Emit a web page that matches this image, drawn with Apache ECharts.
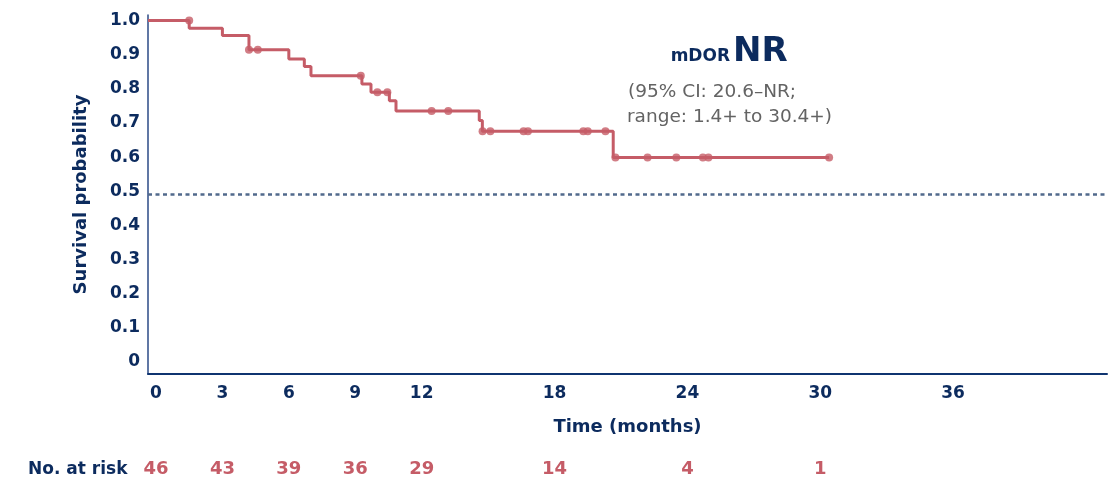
<!DOCTYPE html>
<html><head><meta charset="utf-8">
<script src="https://cdn.jsdelivr.net/npm/echarts@6/dist/echarts.min.js"></script>
<style>html,body{margin:0;padding:0;background:#fff}#c{width:1114px;height:485px}</style>
</head><body><div id="c"></div>
<script>
// Kaplan–Meier step curve (time in months, survival probability)
const kmTimes = [-0.36, 1.5, 3.0, 4.2, 6.0, 6.7, 7.0, 9.3, 9.71, 10.54, 10.84, 14.6, 14.74, 20.65, 30.4];
const kmSurv  = [1.0, 0.977, 0.956, 0.914, 0.887, 0.865, 0.838, 0.814, 0.790, 0.765, 0.735, 0.707, 0.676, 0.599, 0.599];
// Censored observations
const censorTimes = [1.5, 4.2, 4.6, 9.25, 10.0, 10.45, 12.45, 13.2, 14.75, 15.1, 16.6, 16.8, 19.3, 19.5, 20.3, 20.75, 22.2, 23.5, 24.7, 24.95, 30.4];
const censorSurv  = [1.0, 0.914, 0.914, 0.838, 0.790, 0.790, 0.735, 0.735, 0.676, 0.676, 0.676, 0.676, 0.676, 0.676, 0.676, 0.599, 0.599, 0.599, 0.599, 0.599, 0.599];
// Axis ticks
const xTicks = [0, 3, 6, 9, 12, 18, 24, 30, 36];
const yTicks = [0, 0.1, 0.2, 0.3, 0.4, 0.5, 0.6, 0.7, 0.8, 0.9, 1.0];
// Number at risk
const riskTimes  = [0, 3, 6, 9, 12, 18, 24, 30];
const riskCounts = [46, 43, 39, 36, 29, 14, 4, 1];
// Reference (median) line
const refLevel = 0.492;

const NAVY = '#0c2b5e';
const RED = '#c55c67';
const FONT = "'DejaVu Sans', sans-serif";

const chart = echarts.init(document.getElementById('c'), null, {renderer: 'canvas'});
chart.setOption({
  animation: false,
  backgroundColor: '#ffffff',
  grid: [
    {left: 148, right: 7, top: 15, bottom: 111},
    {left: 148, right: 7, top: 452, height: 1}
  ],
  xAxis: [{
    type: 'value', gridIndex: 0, min: -0.36, max: 42.95,
    axisLine: {show: true, onZero: false, lineStyle: {color: '#0f3470', width: 2}},
    axisTick: {show: false}, splitLine: {show: false},
    axisLabel: {customValues: xTicks, color: NAVY, fontWeight: 'bold', fontSize: 17, fontFamily: FONT, margin: 11},
    name: 'Time (months)', nameLocation: 'middle', nameGap: 44,
    nameTextStyle: {color: NAVY, fontWeight: 'bold', fontSize: 18, fontFamily: FONT}
  }, {
    type: 'value', gridIndex: 1, min: -0.36, max: 42.95,
    axisLine: {show: false}, axisTick: {show: false}, splitLine: {show: false},
    axisLabel: {customValues: riskTimes, color: RED, fontWeight: 'bold', fontSize: 18, fontFamily: FONT, margin: 7,
      formatter: v => String(riskCounts[riskTimes.indexOf(v)])}
  }],
  yAxis: [{
    type: 'value', gridIndex: 0, min: -0.035, max: 1.016,
    axisLine: {show: true, onZero: false, lineStyle: {color: '#2b4a86', width: 1.5}},
    axisTick: {show: false}, splitLine: {show: false},
    axisLabel: {customValues: yTicks, color: NAVY, fontWeight: 'bold', fontSize: 17, fontFamily: FONT, margin: 8,
      formatter: v => v === 0 ? '0' : v.toFixed(1)},
    name: 'Survival probability', nameLocation: 'middle', nameGap: 58, nameRotate: 90,
    nameTextStyle: {color: NAVY, fontWeight: 'bold', fontSize: 18, fontFamily: FONT}
  }, {
    type: 'value', gridIndex: 1, show: false, min: 0, max: 1
  }],
  series: [{
    type: 'line', xAxisIndex: 0, yAxisIndex: 0, step: 'end', symbol: 'none',
    data: kmTimes.map((t, i) => [t, kmSurv[i]]),
    lineStyle: {color: RED, width: 3},
    markLine: {
      silent: true, symbol: 'none', label: {show: false},
      lineStyle: {type: [4, 3.5], color: '#516a8c', width: 2.5},
      data: [{yAxis: refLevel}]
    }
  }, {
    type: 'scatter', xAxisIndex: 0, yAxisIndex: 0, symbolSize: 8,
    data: censorTimes.map((t, i) => [t, censorSurv[i]]),
    itemStyle: {color: RED}
  }],
  graphic: [
    {type: 'text', x: 28, y: 470, style: {text: 'No. at risk', fill: NAVY, font: "bold 17px " + FONT, align: 'left', verticalAlign: 'middle'}},
    {type: 'text', x: 730, y: 57, style: {text: 'mDOR', fill: NAVY, font: "bold 17px " + FONT, align: 'right', verticalAlign: 'middle'}},
    {type: 'text', x: 733, y: 52, style: {text: 'NR', fill: NAVY, font: "bold 34px " + FONT, align: 'left', verticalAlign: 'middle'}},
    {type: 'text', x: 628, y: 92, style: {text: '(95% CI: 20.6\u2013NR;', fill: '#636363', font: "18.5px " + FONT, align: 'left', verticalAlign: 'middle'}},
    {type: 'text', x: 627, y: 117, style: {text: 'range: 1.4+ to 30.4+)', fill: '#636363', font: "18.5px " + FONT, align: 'left', verticalAlign: 'middle'}}
  ]
});
</script>
</body></html>
